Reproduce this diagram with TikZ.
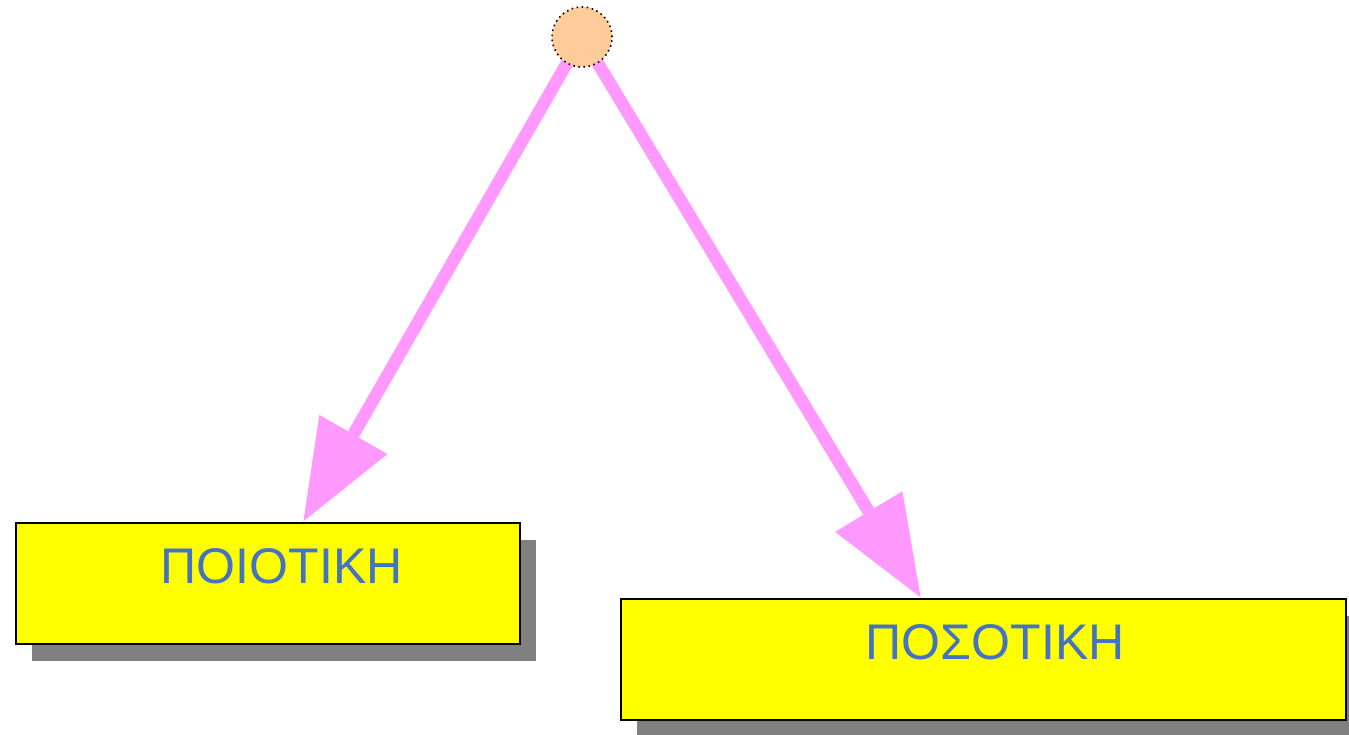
\documentclass[tikz,border=0pt]{standalone}
\usepackage{fontspec}
\setmainfont{Liberation Sans}
\usetikzlibrary{arrows.meta,shadows,backgrounds,calc,positioning}
\definecolor{peach}{RGB}{255,204,153}
\definecolor{pinkline}{RGB}{255,153,255}
\definecolor{labelblue}{RGB}{68,114,196}
\definecolor{boxyellow}{RGB}{255,255,0}

\begin{document}
\begin{tikzpicture}[
        x=0.02cm, y=-0.02cm,
        every node/.style={inner sep=0pt},
        kind/.style={draw=black, line width=1pt, fill=boxyellow, minimum height=2.42cm,
            text height=1.22cm, text depth=1.2cm, text=labelblue,
            font=\fontsize{28.5}{30}\selectfont,
            drop shadow={shadow xshift=0.32cm, shadow yshift=-0.34cm, fill=gray, opacity=1}},
        flow/.style={pinkline, line width=0.25cm, -{Triangle[length=2.02cm, width=1.5cm]}}
    ]
    \useasboundingbox (0,0) rectangle (1349,734);

    % Nodes
    \node (root) [circle, draw, line width=0.9pt, dotted, fill=peach, minimum size=1.2cm] at (582,37) {};
    \node (qual) [kind, minimum width=10.08cm, anchor=north west] at (15,522) {\hspace*{0.56cm}ΠΟΙΟΤΙΚΗ};
    \node (quan) [kind, minimum width=14.5cm, anchor=north west] at (620,598) {\hspace*{0.48cm}ΠΟΣΟΤΙΚΗ};

    % Edges
    \begin{scope}[on background layer]
        \draw[flow] (root.center) -- ($(qual.north west)+(288,0)$);
        \draw[flow] (root.center) -- ($(quan.north west)+(301,0)$);
    \end{scope}

\end{tikzpicture}
\end{document}
